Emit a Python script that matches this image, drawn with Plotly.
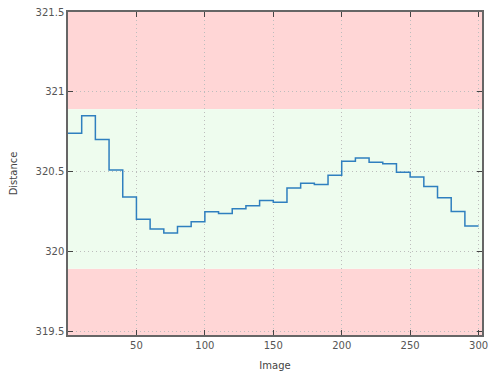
import plotly.graph_objects as go

# Step starts (image index) and distance values for each block of 10 images
step_images = [0, 10, 20, 30, 40, 50, 60, 70, 80, 90, 100, 110, 120, 130, 140,
               150, 160, 170, 180, 190, 200, 210, 220, 230, 240, 250, 260, 270, 280, 290, 300]
distances = [320.74, 320.85, 320.70, 320.51, 320.34, 320.20, 320.14, 320.115, 320.156, 320.185,
             320.248, 320.237, 320.267, 320.286, 320.319, 320.307, 320.396, 320.427, 320.419, 320.477,
             320.565, 320.585, 320.558, 320.548, 320.496, 320.465, 320.406, 320.335, 320.25, 320.158,
             320.158]

band_low = 319.89
band_high = 320.89
y_min, y_max = 319.475, 321.5
x_min, x_max = 0, 302.5

fig = go.Figure()
fig.add_trace(go.Scatter(x=step_images, y=distances, mode="lines", line_shape="hv",
                         line=dict(color="#2f7fbf", width=1.5), showlegend=False))

shapes = [
    dict(type="rect", xref="x domain", yref="y", x0=0, x1=1, y0=band_high, y1=y_max,
         fillcolor="#ffd6d6", line_width=0, layer="below"),
    dict(type="rect", xref="x domain", yref="y", x0=0, x1=1, y0=y_min, y1=band_low,
         fillcolor="#ffd6d6", line_width=0, layer="below"),
    dict(type="rect", xref="x domain", yref="y", x0=0, x1=1, y0=band_low, y1=band_high,
         fillcolor="#eefcee", line_width=0, layer="below"),
]

axis_common = dict(showgrid=True, gridcolor="#bdbdbd", griddash="1px,3px", gridwidth=1,
                   ticks="inside", ticklen=5, tickcolor="#444", mirror="ticks",
                   showline=True, linecolor="#666", linewidth=1.5, zeroline=False,
                   automargin=False,
                   tickfont=dict(family="DejaVu Sans", size=10, color="#555"),
                   layer="above traces")

fig.update_layout(
    width=489, height=374,
    margin=dict(l=68, r=7, t=12, b=39, autoexpand=False),
    paper_bgcolor="white", plot_bgcolor="white",
    shapes=shapes,
    font=dict(family="DejaVu Sans", size=10, color="#444"),
    xaxis=dict(range=[x_min, x_max], tickvals=[50, 100, 150, 200, 250, 300],
               title=dict(text="Image", standoff=12, font=dict(size=10, color="#444")),
               **axis_common),
    yaxis=dict(range=[y_min, y_max], tickvals=[319.5, 320, 320.5, 321, 321.5],
               ticktext=["319.5", "320", "320.5", "321", "321.5"],
               title=dict(text="Distance", standoff=16, font=dict(size=10, color="#444")),
               **axis_common),
)

fig.write_html("out.html")
